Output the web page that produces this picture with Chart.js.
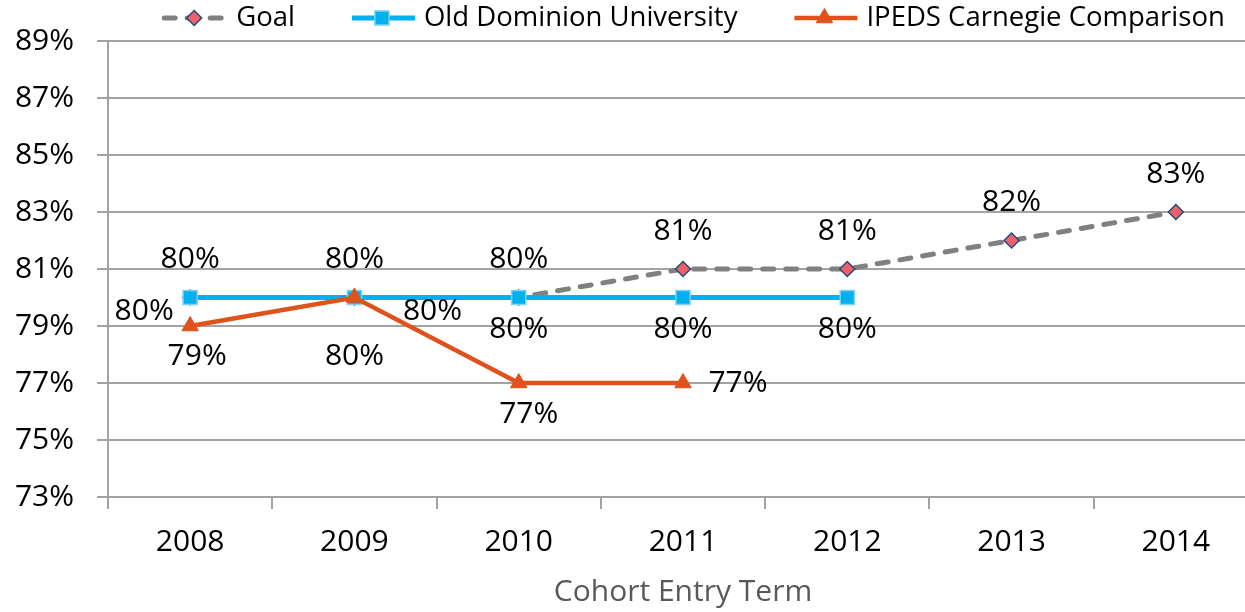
<!DOCTYPE html>
<html>
<head>
<meta charset="utf-8">
<script src="https://cdn.jsdelivr.net/npm/chart.js@4.4.1/dist/chart.umd.min.js"></script>
<style>
html, body { margin: 0; padding: 0; background: #fff; overflow: hidden; }
#wrap { position: relative; width: 1245px; height: 612px; overflow: hidden; }
#myChart { position: absolute; left: 0; top: 0; width: 1275px; height: 612px; }
</style>
</head>
<body>
<div id="wrap"><canvas id="myChart" width="1275" height="612" style="width:1275px;height:612px"></canvas></div>
<script>
// valores do grafico
const years = ['2008', '2009', '2010', '2011', '2012', '2013', '2014'];
const goalVals = [80, 80, 80, 81, 81, 82, 83];
const oduVals = [80, 80, 80, 80, 80, null, null];
const ipedsVals = [79, 80, 77, 77, null, null, null];
const yMin = 73, yMax = 89, yStep = 2;

const gridGrey = '#a3a3a3';
const FONT = '"Open Sans", "DejaVu Sans", sans-serif';
const plotRight = 1258; // a area do grafico passa da borda da imagem

// onde fica cada rotulo em relacao ao ponto (dx, dy em px)
const labelOffsets = [
    [[0, -38], [0, -38], [0, -38], [0, -38], [0, -38], [0, -38], [0, -38]],
    [[-46, 14], [78, 14], [0, 32], [0, 32], [0, 32]],
    [[7, 30], [0, 59], [10, 31], [55, 0]]
];

function drawMarker(ctx, style, x, y, r, fill, stroke, bw) {
    ctx.save();
    ctx.beginPath();
    if (style === 'rectRot') {
        ctx.moveTo(x, y - r); ctx.lineTo(x + r, y); ctx.lineTo(x, y + r); ctx.lineTo(x - r, y);
    } else if (style === 'rect') {
        const s = r * Math.SQRT1_2;
        ctx.rect(x - s, y - s, 2 * s, 2 * s);
    } else {
        const w = r * Math.sqrt(3) / 2;
        ctx.moveTo(x, y - r); ctx.lineTo(x + w, y + r / 2); ctx.lineTo(x - w, y + r / 2);
    }
    ctx.closePath();
    ctx.fillStyle = fill; ctx.fill();
    if (bw) { ctx.lineWidth = bw; ctx.strokeStyle = stroke; ctx.stroke(); }
    ctx.restore();
}

const labelPlugin = {
    id: 'pctLabels',
    afterDatasetsDraw(chart) {
        const ctx = chart.ctx;
        ctx.save();
        ctx.font = '30px ' + FONT;
        ctx.fillStyle = '#000';
        ctx.textAlign = 'center';
        ctx.textBaseline = 'middle';
        chart.data.datasets.forEach(function (ds, i) {
            chart.getDatasetMeta(i).data.forEach(function (pt, j) {
                const v = ds.data[j];
                if (v === null || v === undefined) return;
                const off = labelOffsets[i][j];
                ctx.fillText(v + '%', pt.x + off[0], pt.y + off[1]);
            });
        });
        ctx.restore();
    }
};

const legendPlugin = {
    id: 'lineLegend',
    afterDraw(chart) {
        const ctx = chart.ctx;
        ctx.save();
        ctx.font = '27.5px ' + FONT;
        const symW = 66, txtGap = 9, itemGap = 54, y = 18;
        const dsList = chart.data.datasets;
        let total = 0;
        dsList.forEach(function (ds, k) {
            total += symW + txtGap + ctx.measureText(ds.label).width + (k ? itemGap : 0);
        });
        let x = 693 - total / 2;
        dsList.forEach(function (ds) {
            ctx.save();
            ctx.strokeStyle = ds.borderColor;
            ctx.lineWidth = ds.borderWidth;
            ctx.lineCap = ds.borderCapStyle || 'butt';
            ctx.setLineDash(ds.borderDash || []);
            ctx.beginPath();
            ctx.moveTo(x + 3, y);
            ctx.lineTo(x + symW, y);
            ctx.stroke();
            ctx.restore();
            drawMarker(ctx, ds.pointStyle, x + symW / 2, y, ds.pointRadius,
                ds.pointBackgroundColor, ds.pointBorderColor, ds.pointBorderWidth);
            ctx.fillStyle = '#000';
            ctx.textAlign = 'left';
            ctx.textBaseline = 'middle';
            ctx.fillText(ds.label, x + symW + txtGap, y);
            x += symW + txtGap + ctx.measureText(ds.label).width + itemGap;
        });
        ctx.restore();
    }
};

const ctx = document.getElementById('myChart').getContext('2d');
const myChart = new Chart(ctx, {
    type: 'line',
    data: {
        labels: years,
        datasets: [{
            label: 'Goal',
            data: goalVals,
            order: 3,
            borderColor: '#808080',
            borderWidth: 5,
            borderDash: [11, 12],
            borderCapStyle: 'round',
            pointStyle: 'rectRot',
            pointRadius: 7.5,
            pointBackgroundColor: '#f0606c',
            pointBorderColor: '#1f4e79',
            pointBorderWidth: 1.5,
            tension: 0
        }, {
            label: 'Old Dominion University',
            data: oduVals,
            order: 2,
            borderColor: '#00b0f0',
            borderWidth: 5,
            pointStyle: 'rect',
            pointRadius: 10,
            pointBackgroundColor: '#00b0f0',
            pointBorderColor: '#7fd2f4',
            pointBorderWidth: 1.5,
            tension: 0
        }, {
            label: 'IPEDS Carnegie Comparison',
            data: ipedsVals,
            order: 1,
            borderColor: '#e0521c',
            borderWidth: 4.5,
            pointStyle: 'triangle',
            pointRadius: 9.5,
            pointBackgroundColor: '#e0521c',
            pointBorderColor: '#e0521c',
            pointBorderWidth: 1,
            tension: 0
        }]
    },
    options: {
        responsive: false,
        animation: false,
        layout: { padding: { top: 38, left: 0, right: 17, bottom: 0 } },
        plugins: {
            legend: { display: false },
            tooltip: { enabled: false }
        },
        scales: {
            x: {
                offset: true,
                grid: {
                    offset: true,
                    drawOnChartArea: false,
                    tickLength: 12,
                    color: gridGrey,
                    lineWidth: 2
                },
                border: { display: true, color: gridGrey, width: 2 },
                ticks: {
                    color: '#000',
                    padding: 15,
                    maxRotation: 0,
                    font: { family: FONT, size: 30 }
                },
                title: {
                    display: true,
                    text: 'Cohort Entry Term',
                    color: '#595959',
                    padding: { top: 0, bottom: 2 },
                    font: { family: FONT, size: 30 }
                },
                afterFit: function (scale) {
                    scale.height = 115;
                    scale.paddingLeft = 0;
                    scale.paddingRight = 0;
                }
            },
            y: {
                min: yMin,
                max: yMax,
                grid: { color: gridGrey, lineWidth: 2, tickLength: 11 },
                border: { display: true, color: gridGrey, width: 2 },
                ticks: {
                    stepSize: yStep,
                    color: '#000',
                    padding: 23,
                    font: { family: FONT, size: 30 },
                    callback: function (v) { return v + '%'; }
                },
                afterFit: function (scale) { scale.width = 108; }
            }
        }
    },
    plugins: [labelPlugin, legendPlugin]
});

// corrige a borda direita da area do grafico
const diff = myChart.chartArea.right - plotRight;
if (Math.abs(diff) > 0.5) {
    myChart.options.layout.padding.right = Math.max(0, 17 + diff);
    myChart.update();
}
</script>
</body>
</html>
